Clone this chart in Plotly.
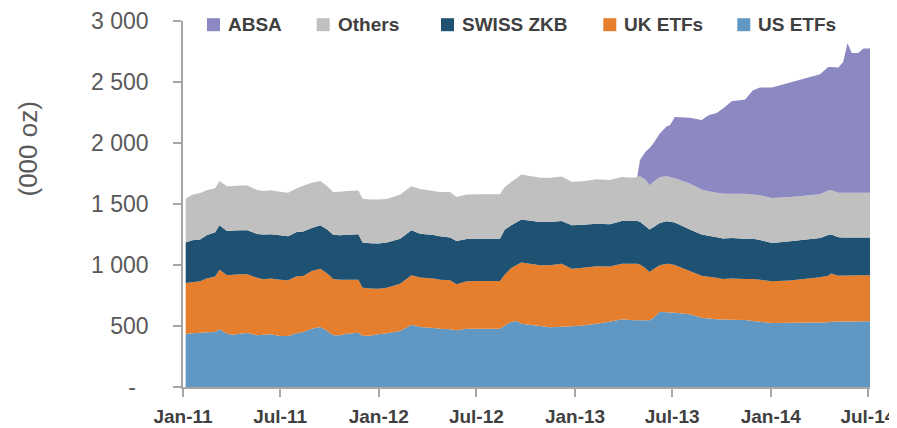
import plotly.graph_objects as go

# ---------------- data ----------------
dates = [
    "2011-01-06", "2011-01-18", "2011-02-02", "2011-02-14", "2011-03-02", "2011-03-10", "2011-03-24", "2011-04-05", "2011-04-19", "2011-05-01",
    "2011-05-19", "2011-05-31", "2011-06-13", "2011-07-01", "2011-07-16", "2011-08-01", "2011-08-13", "2011-08-29", "2011-09-14", "2011-09-27",
    "2011-10-08", "2011-10-21", "2011-11-02", "2011-11-24", "2011-12-02", "2011-12-16", "2011-12-31", "2012-01-16", "2012-02-10", "2012-03-02",
    "2012-03-18", "2012-04-12", "2012-04-24", "2012-05-13", "2012-05-25", "2012-06-13", "2012-07-08", "2012-08-14", "2012-08-23", "2012-09-04",
    "2012-09-14", "2012-09-23", "2012-10-28", "2012-11-15", "2012-12-07", "2012-12-26", "2013-01-16", "2013-02-10", "2013-03-07", "2013-03-29",
    "2013-04-20", "2013-04-27", "2013-05-02", "2013-05-12", "2013-05-20", "2013-05-27", "2013-06-08", "2013-06-21", "2013-06-27", "2013-07-06",
    "2013-08-03", "2013-08-25", "2013-09-07", "2013-09-22", "2013-10-04", "2013-10-20", "2013-11-14", "2013-11-29", "2013-12-12", "2014-01-03",
    "2014-02-06", "2014-04-03", "2014-04-18", "2014-04-24", "2014-05-07", "2014-05-16", "2014-05-24", "2014-06-01", "2014-06-13", "2014-06-23",
    "2014-07-05",
]

us_etfs = [437, 441, 445, 448, 451, 473, 437, 429, 438, 443,
           424, 428, 432, 418, 418, 440, 450, 478, 492, 460,
           424, 424, 437, 445, 421, 421, 432, 440, 459, 511,
           492, 484, 478, 473, 465, 478, 478, 478, 505, 533,
           541, 519, 500, 489, 493, 497, 505, 519, 535, 555,
           547, 547, 547, 547, 547, 565, 615, 612, 610, 608,
           596, 568, 562, 556, 553, 552, 550, 542, 535, 525,
           526, 529, 530, 534, 536, 537, 537, 537, 537, 538,
           538]

uk_etfs = [415, 417, 421, 441, 454, 489, 479, 491, 486, 481,
           471, 455, 457, 462, 457, 467, 460, 473, 478, 470,
           461, 456, 443, 435, 393, 387, 374, 374, 388, 405,
           406, 406, 402, 402, 377, 388, 391, 391, 417, 442,
           459, 501, 498, 509, 518, 473, 473, 470, 453, 456,
           464, 463, 458, 428, 396, 400, 383, 399, 398, 392,
           355, 344, 341, 339, 332, 338, 336, 344, 345, 341,
           346, 371, 382, 396, 376, 377, 377, 377, 378, 378,
           378]

swiss_zkb = [332, 344, 344, 354, 363, 363, 363, 362, 360, 360,
             360, 366, 363, 363, 360, 363, 365, 352, 355, 360,
             363, 363, 368, 372, 370, 370, 370, 370, 369, 368,
             359, 355, 355, 350, 355, 347, 347, 347, 368, 350,
             350, 352, 355, 355, 349, 355, 352, 350, 346, 350,
             350, 351, 350, 345, 347, 345, 346, 347, 347, 348,
             339, 338, 337, 333, 332, 332, 330, 330, 325, 314,
             323, 322, 333, 320, 316, 312, 312, 312, 311, 309,
             309]

others = [360, 373, 380, 369, 362, 364, 366, 366, 367, 367,
          360, 358, 360, 357, 358, 360, 375, 372, 364, 355,
          350, 357, 358, 358, 360, 358, 360, 356, 361, 361,
          366, 362, 363, 373, 360, 365, 364, 364, 349, 355,
          362, 369, 363, 363, 365, 358, 356, 363, 362, 361,
          355, 361, 372, 380, 363, 370, 377, 369, 367, 364,
          378, 368, 365, 364, 368, 363, 369, 362, 366, 369,
          362, 358, 365, 362, 365, 367, 367, 367, 367, 368,
          368]

absa_dates = [
    "2013-04-27", "2013-05-02", "2013-05-12", "2013-05-20", "2013-05-27", "2013-06-08", "2013-06-21", "2013-06-27", "2013-07-06",
    "2013-08-03", "2013-08-25", "2013-09-07", "2013-09-22", "2013-10-04", "2013-10-20", "2013-11-14", "2013-11-29", "2013-12-12", "2014-01-03",
    "2014-02-06", "2014-04-03", "2014-04-18", "2014-04-24", "2014-05-07", "2014-05-16", "2014-05-24", "2014-06-01", "2014-06-13", "2014-06-23",
    "2014-07-05",
]
absa = [0, 131, 226, 307, 315, 356, 410, 423, 501,
        538, 570, 622, 654, 697, 757, 771, 854, 883, 905,
        938, 983, 1013, 1011, 1025, 1071, 1227, 1145, 1145, 1181,
        1181]

series_names = ["US ETFs", "UK ETFs", "SWISS ZKB", "Others", "ABSA"]

y_tickvals = [0, 500, 1000, 1500, 2000, 2500, 3000]
y_ticktext = ["-\u00a0\u00a0", "500", "1 000", "1 500", "2 000", "2 500", "3 000"]
x_tickvals = ["2011-01-01", "2011-07-01", "2012-01-01", "2012-07-01",
              "2013-01-01", "2013-07-01", "2014-01-01", "2014-07-01"]
x_ticktext = ["Jan-11", "Jul-11", "Jan-12", "Jul-12", "Jan-13", "Jul-13", "Jan-14", "Jul-14"]

# ---------------- styling ----------------
colors = {
    "US ETFs": "#6098C3",
    "UK ETFs": "#E57E2D",
    "SWISS ZKB": "#1F5272",
    "Others": "#C0C0C0",
    "ABSA": "#8C88C1",
}

W, H = 897, 428
OFF = 8  # page body margin offset
# plot area in screen pixels
X0, X1, Y0, Y1 = 183, 870, 21, 387
L, T = X0 - OFF, Y0 - OFF
R, B = W - (X1 - OFF), H - (Y1 - OFF)
PW, PH = X1 - X0, Y1 - Y0


def px_x(px):
    return (px - X0) / PW


def px_y(py):
    return (Y1 - py) / PH


fig = go.Figure()
series_data = [(dates, us_etfs), (dates, uk_etfs), (dates, swiss_zkb), (dates, others), (absa_dates, absa)]
for name, (xs, ys) in zip(series_names, series_data):
    fig.add_trace(go.Scatter(
        x=xs, y=ys, name=name, mode="none", stackgroup="one",
        fillcolor=colors[name], showlegend=False,
        hovertemplate="%{x|%b-%y}: %{y}<extra>" + name + "</extra>",
    ))

# legend drawn in the chart's top band (order as in the source)
legend_order = ["ABSA", "Others", "SWISS ZKB", "UK ETFs", "US ETFs"]
legend_sq_left = [207, 316.7, 441, 603.3, 737.3]
shapes = []
annotations = []
for name, sx in zip(legend_order, legend_sq_left):
    shapes.append(dict(type="rect", xref="paper", yref="paper",
                       x0=px_x(sx), x1=px_x(sx + 13), y0=px_y(31.2), y1=px_y(18.2),
                       fillcolor=colors[name], line=dict(width=0)))
    annotations.append(dict(text=name, xref="paper", yref="paper",
                            x=px_x(sx + 19), y=px_y(24.8), xanchor="left", yanchor="middle",
                            showarrow=False,
                            font=dict(family="Liberation Sans", size=19, color="#404040", weight="bold")))

annotations.append(dict(text="(000 oz)", xref="paper", yref="paper",
                        x=px_x(27.5), y=px_y(149), xanchor="center", yanchor="middle",
                        textangle=-90, showarrow=False,
                        font=dict(family="Liberation Sans", size=26, color="#595959")))

fig.update_layout(
    width=W, height=H,
    margin=dict(l=L, r=R, t=T, b=B, pad=0, autoexpand=False),
    paper_bgcolor="white", plot_bgcolor="white",
    showlegend=False,
    shapes=shapes, annotations=annotations,
    xaxis=dict(
        type="date", range=["2011-01-01", "2014-07-05"],
        tickvals=x_tickvals, ticktext=x_ticktext,
        ticks="outside", ticklen=8, tickcolor="#A6A6A6", tickwidth=1.5,
        showline=True, linecolor="#A6A6A6", linewidth=1.5,
        showgrid=False, zeroline=False, automargin=False,
        tickfont=dict(family="Liberation Sans", size=19, color="#404040", weight="bold"),
        ticklabelstandoff=3,
    ),
    yaxis=dict(
        range=[0, 3000],
        tickvals=y_tickvals, ticktext=y_ticktext,
        ticks="outside", ticklen=8, tickcolor="#A6A6A6", tickwidth=1.5,
        showline=True, linecolor="#A6A6A6", linewidth=1.5,
        showgrid=False, zeroline=False, automargin=False,
        tickfont=dict(family="Liberation Sans", size=23, color="#595959"),
        ticklabelstandoff=20,
    ),
)

fig.write_html("out.html")
